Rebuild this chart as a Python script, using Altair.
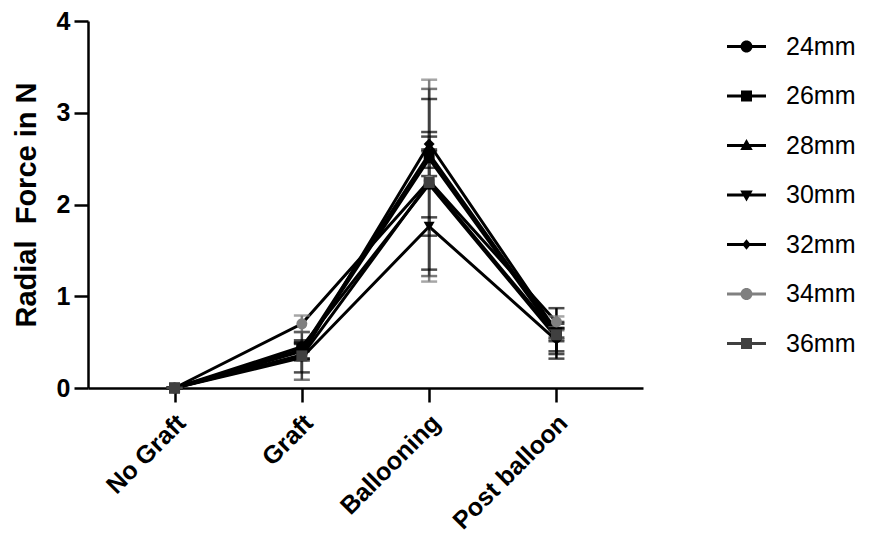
import altair as alt
import pandas as pd

categories = ["No Graft", "Graft", "Ballooning", "Post balloon"]
series = ["24mm", "26mm", "28mm", "30mm", "32mm", "34mm", "36mm"]

mean_24mm = [0.0, 0.45, 2.22, 0.55]
sd_24mm = [0.0, 0.05, 0.93, 0.15]
mean_26mm = [0.0, 0.42, 2.55, 0.60]
sd_26mm = [0.0, 0.10, 0.24, 0.05]
mean_28mm = [0.0, 0.40, 2.50, 0.58]
sd_28mm = [0.0, 0.08, 0.10, 0.07]
mean_30mm = [0.0, 0.33, 1.76, 0.52]
sd_30mm = [0.0, 0.16, 0.10, 0.20]
mean_32mm = [0.0, 0.36, 2.66, 0.62]
sd_32mm = [0.0, 0.06, 0.08, 0.25]
mean_34mm = [0.0, 0.70, 2.26, 0.72]
sd_34mm = [0.0, 0.09, 1.10, 0.06]
mean_36mm = [0.0, 0.35, 2.24, 0.58]
sd_36mm = [0.0, 0.26, 1.02, 0.05]

colors = ["#000000", "#000000", "#000000", "#000000", "#000000", "#808080", "#404040"]
plot_shapes = ["circle", "square", "triangle-up", "triangle-down", "diamond", "circle", "square"]

line_bar = "M-3.9,-0.28H3.9V0.28H-3.9Z"
legend_paths = [
    line_bar + "M-1.2,0A1.2,1.2,0,1,1,1.2,0A1.2,1.2,0,1,1,-1.2,0Z",
    line_bar + "M-1.1,-1.1H1.1V1.1H-1.1Z",
    line_bar + "M0,-1.3L1.25,0.9H-1.25Z",
    line_bar + "M0,1.3L-1.25,-0.9H1.25Z",
    line_bar + "M0,-1.05L0.85,0L0,1.05L-0.85,0Z",
    line_bar + "M-1.2,0A1.2,1.2,0,1,1,1.2,0A1.2,1.2,0,1,1,-1.2,0Z",
    line_bar + "M-1.1,-1.1H1.1V1.1H-1.1Z",
]

means = [mean_24mm, mean_26mm, mean_28mm, mean_30mm, mean_32mm, mean_34mm, mean_36mm]
sds = [sd_24mm, sd_26mm, sd_28mm, sd_30mm, sd_32mm, sd_34mm, sd_36mm]

rows = []
for s, m, d in zip(series, means, sds):
    for c, mv, dv in zip(categories, m, d):
        rows.append({"series": s, "category": c, "mean": mv, "low": mv - dv, "high": mv + dv})
df = pd.DataFrame(rows)

FONT = "Liberation Sans"
ytitle = "Radial\u00a0 Force in N"

x = alt.X(
    "category:N",
    sort=categories,
    scale=alt.Scale(type="point", padding=0.68),
    axis=alt.Axis(
        title=None,
        labelAngle=-45,
        labelFontSize=25,
        labelFontWeight="bold",
        labelFont=FONT,
        labelColor="black",
        tickSize=14,
        labelPadding=8,
        labelOffset=-2,
    ),
)
yscale = alt.Scale(domain=[0, 4])
yaxis = alt.Axis(
    values=[0, 1, 2, 3, 4],
    format="d",
    labelFontSize=25,
    labelFontWeight="bold",
    labelFont=FONT,
    labelColor="black",
    tickSize=14,
    labelPadding=4,
    titleFontSize=29,
    titleFontWeight="bold",
    titleFont=FONT,
    titleColor="black",
    titlePadding=15,
)


def make_legend():
    return alt.Legend(
        title=None,
        orient="none",
        legendX=646,
        legendY=13,
        symbolSize=100,
        symbolOpacity=1,
        symbolStrokeWidth=0,
        labelFontSize=25,
        labelFont=FONT,
        labelColor="black",
        labelOffset=27,
        rowPadding=23.5,
        labelLimit=200,
    )


def color_enc(legend=None):
    return alt.Color(
        "series:N", sort=series, scale=alt.Scale(domain=series, range=colors), legend=legend
    )


base = alt.Chart(df)

lines = base.mark_line(color="black", strokeWidth=3).encode(
    x=x, y=alt.Y("mean:Q", scale=yscale, axis=yaxis, title=ytitle), detail="series:N"
)
rules = base.mark_rule(strokeWidth=2.5).encode(
    x=x, y=alt.Y("low:Q", scale=yscale, title=ytitle), y2="high:Q", color=color_enc()
)
cap_lo = base.mark_tick(size=16, thickness=2.5).encode(
    x=x, y=alt.Y("low:Q", scale=yscale, title=ytitle), color=color_enc()
)
cap_hi = base.mark_tick(size=16, thickness=2.5).encode(
    x=x, y=alt.Y("high:Q", scale=yscale, title=ytitle), color=color_enc()
)
points = base.mark_point(filled=True, opacity=1, size=120).encode(
    x=x,
    y=alt.Y("mean:Q", scale=yscale, title=ytitle),
    color=color_enc(),
    shape=alt.Shape("series:N", sort=series, scale=alt.Scale(domain=series, range=plot_shapes), legend=None),
)
legend_layer = base.mark_point(filled=True, opacity=0).encode(
    x=x,
    y=alt.Y("mean:Q", scale=yscale, title=ytitle),
    shape=alt.Shape(
        "series:N",
        sort=series,
        scale=alt.Scale(domain=series, range=legend_paths),
        legend=make_legend(),
    ),
    color=color_enc(make_legend()),
)

chart = (
    alt.layer(lines, rules, cap_lo, cap_hi, points, legend_layer)
    .resolve_scale(shape="independent", color="independent")
    .properties(
        width=555,
        height=367,
        autosize="none",
        padding={"left": 80, "top": 13, "right": 224, "bottom": 148},
    )
    .configure_view(stroke=None)
    .configure_axis(
        grid=False,
        domainColor="black",
        domainWidth=2.5,
        tickColor="black",
        tickWidth=2.5,
    )
)

chart.save("out.html", embed_options={"renderer": "svg", "actions": False})
